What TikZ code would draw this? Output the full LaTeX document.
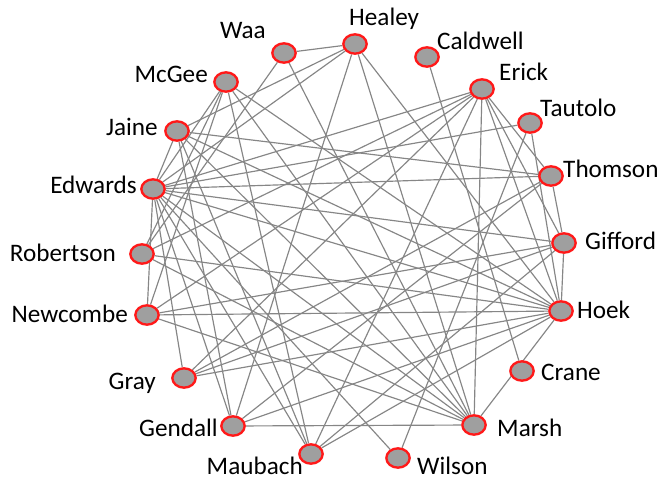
\documentclass[tikz,border=0pt]{standalone}
\usepackage{fontspec}
\setmainfont{Carlito}
\usetikzlibrary{shapes.geometric}
\usetikzlibrary{backgrounds}
\tikzstyle{person}=[ellipse, fill=gray!75, draw=red!90!white, line width=2pt, minimum width=0.7cm, minimum height=0.58cm, inner sep=0pt]
\tikzstyle{nametext}=[font=\fontsize{21.5}{24}\selectfont, inner sep=0pt]
\tikzstyle{link}=[draw=gray!95, line width=1pt]

\begin{document}
\begin{tikzpicture}[x=0.03cm, y=-0.03cm]
    \useasboundingbox (0,0) rectangle (659,480);

    \node[person] (waa)       at (284,53)  {};
    \node[person] (healey)    at (355,44)  {};
    \node[person] (caldwell)  at (427,57)  {};
    \node[person] (erick)     at (482,89)  {};
    \node[person] (tautolo)   at (530,123) {};
    \node[person] (thomson)   at (551,176) {};
    \node[person] (gifford)   at (564,243) {};
    \node[person] (hoek)      at (561,311) {};
    \node[person] (crane)     at (522,371) {};
    \node[person] (marsh)     at (474,425) {};
    \node[person] (wilson)    at (398,458) {};
    \node[person] (maubach)   at (311,454) {};
    \node[person] (gendall)   at (233,426) {};
    \node[person] (grey)      at (184,378) {};
    \node[person] (newcombe)  at (147,315) {};
    \node[person] (robertson) at (142,254) {};
    \node[person] (edwards)   at (153,189) {};
    \node[person] (jaine)     at (177,131) {};
    \node[person] (mcgee)     at (226,82)  {};

    % names, left side right-aligned, right side left-aligned, on their baselines
    \node[nametext, anchor=base east] (waaText)       at (266,39)  {Waa};
    \node[nametext, anchor=base west] (healeyText)    at (349,26)  {Healey};
    \node[nametext, anchor=base west] (caldwellText)  at (437,50)  {Caldwell};
    \node[nametext, anchor=base west] (erickText)     at (499,81)  {Erick};
    \node[nametext, anchor=base west] (tautoloText)   at (540,117) {Tautolo};
    \node[nametext, anchor=base west] (thomsonText)   at (563,178) {Thomson};
    \node[nametext, anchor=base west] (giffordText)   at (585,250) {Gifford};
    \node[nametext, anchor=base west] (hoekText)      at (577,319) {Hoek};
    \node[nametext, anchor=base west] (craneText)     at (541,381) {Crane};
    \node[nametext, anchor=base west] (marshText)     at (497,436) {Marsh};
    \node[nametext, anchor=base west] (wilsonText)    at (417,474) {Wilson};
    \node[nametext, anchor=base east] (maubachText)   at (303,474) {Maubach};
    \node[nametext, anchor=base east] (gendallText)   at (218,437) {Gendall};
    \node[nametext, anchor=base east] (grayText)      at (156,390) {Gray};
    \node[nametext, anchor=base east] (newcombeText)  at (128,323) {Newcombe};
    \node[nametext, anchor=base east] (robertsonText) at (116,262) {Robertson};
    \node[nametext, anchor=base east] (edwardsText)   at (137,194) {Edwards};
    \node[nametext, anchor=base east] (jaineText)     at (158,136) {Jaine};
    \node[nametext, anchor=base east] (mcgeeText)     at (208,83)  {McGee};

    \begin{scope}[on background layer]
      \foreach \a/\b in {waa/healey, waa/marsh, waa/robertson,
          healey/jaine, healey/edwards, healey/gendall, healey/marsh, healey/hoek,
          caldwell/crane,
          erick/edwards, erick/robertson, erick/grey, erick/maubach, erick/thomson,
          erick/hoek, erick/marsh, erick/gifford, erick/newcombe,
          tautolo/edwards, tautolo/hoek, tautolo/wilson,
          thomson/jaine, thomson/edwards, thomson/gifford, thomson/grey, thomson/gendall,
          gifford/hoek, gifford/edwards, gifford/newcombe, gifford/grey, gifford/maubach,
          hoek/jaine, hoek/edwards, hoek/robertson, hoek/newcombe, hoek/grey,
          hoek/gendall, hoek/maubach, hoek/marsh, hoek/mcgee,
          marsh/gendall, marsh/robertson, marsh/edwards, marsh/jaine, marsh/mcgee,
          marsh/newcombe,
          wilson/edwards, maubach/edwards, maubach/mcgee, maubach/jaine,
          gendall/jaine, gendall/edwards, grey/edwards,
          newcombe/mcgee, newcombe/edwards, robertson/mcgee,
          jaine/edwards, mcgee/edwards}
        \draw[link] (\a) -- (\b);
    \end{scope}
\end{tikzpicture}
\end{document}
